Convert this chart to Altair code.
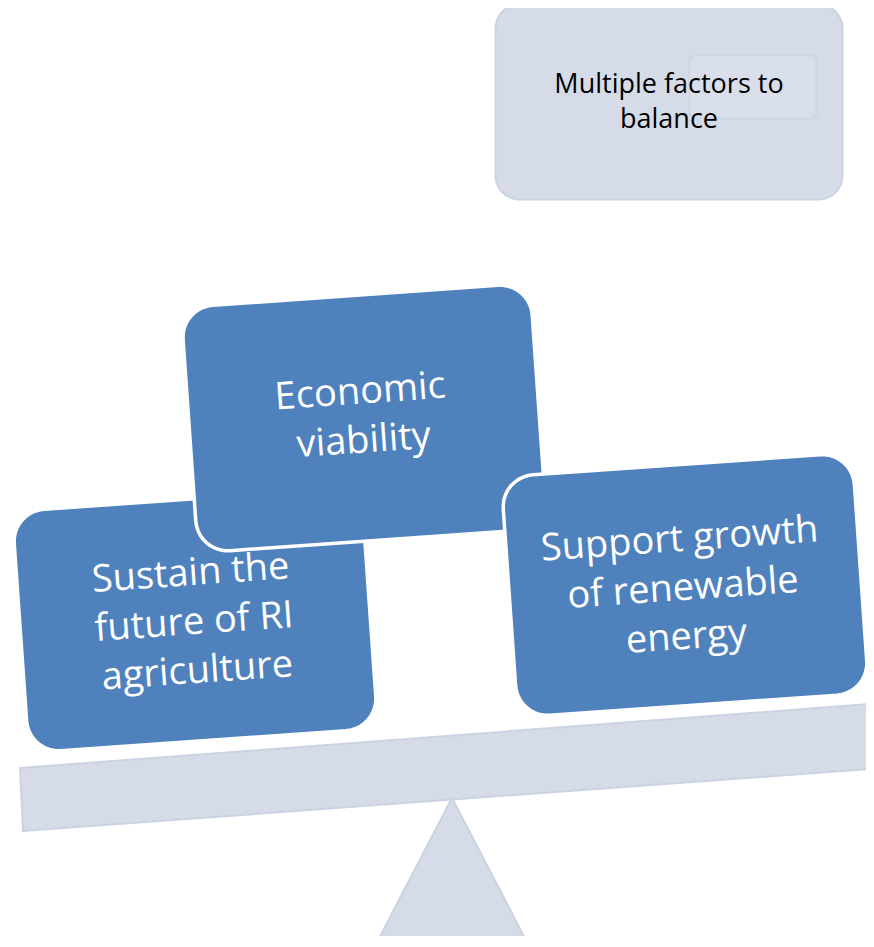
import math
import altair as alt
import pandas as pd

# ---- diagram content (pixel space of the 874x947 picture) ----
title_lines = ["Multiple factors to", "balance"]
title_box = [669, 102, 347, 195, 24]          # cx, cy, w, h, r

box_names = ["sustain", "economic", "support"]
box_lines = [["Sustain the", "future of RI", "agriculture"],
             ["Economic", "viability"],
             ["Support growth", "of renewable", "energy"]]
box_cx = [195, 364, 685]
box_cy = [620, 418, 585]
box_w = [350, 350, 352]
box_h = [242, 246, 241]
box_r = [32, 32, 32]
text_cx = [194, 362, 683]
text_cy = [623, 417, 589]
tilt = -4.0

beam_x = [20, 884, 884, 23]
beam_y = [768, 703, 768, 831]
fulcrum_x = [452, 530, 374]
fulcrum_y = [798, 948, 948]

inner_rect = [753, 87, 127, 63, 6]

BLUE = "#4F81BD"
LIGHT = "#D5DCE8"
LIGHT_EDGE = "#CBD3E3"

W, H = 858, 928
xs = alt.Scale(domain=[8, 8 + W])
ys = alt.Scale(domain=[8, 8 + H], reverse=True)


def rrect(cx, cy, w, h, r, ang, n=10):
    pts = []
    centers = [(w / 2 - r, -h / 2 + r, -90), (w / 2 - r, h / 2 - r, 0),
               (-w / 2 + r, h / 2 - r, 90), (-w / 2 + r, -h / 2 + r, 180)]
    for (ox, oy, a0) in centers:
        for k in range(n + 1):
            a = math.radians(a0 + 90 * k / n)
            pts.append((ox + r * math.cos(a), oy + r * math.sin(a)))
    t = math.radians(ang)
    out = []
    for i, (px, py) in enumerate(pts):
        out.append({"i": i,
                    "x": cx + px * math.cos(t) - py * math.sin(t),
                    "y": cy + px * math.sin(t) + py * math.cos(t)})
    return pd.DataFrame(out)


def poly(xl, yl):
    return pd.DataFrame({"i": list(range(len(xl))), "x": xl, "y": yl})


def shape(df, fill, stroke, sw, opacity=1.0):
    return alt.Chart(df).mark_line(
        fill=fill, stroke=stroke, strokeWidth=sw, interpolate="linear-closed",
        fillOpacity=opacity, clip=True
    ).encode(
        x=alt.X("x:Q", scale=xs, axis=None),
        y=alt.Y("y:Q", scale=ys, axis=None),
        order="i:Q",
    )


def label(lines, cx, cy, size, color, lh, tilt_deg=0.0):
    # Vega puts the first line at the anchor; shift so the block is centred
    d = (len(lines) - 1) * lh / 2
    t = math.radians(tilt_deg)
    ax = cx + d * math.sin(t)
    ay = cy - d * math.cos(t)
    df = pd.DataFrame({"x": [ax], "y": [ay], "t": [lines]})
    ang = (360 + tilt_deg) % 360
    return alt.Chart(df).mark_text(
        align="center", baseline="middle", fontSize=size, color=color,
        font="Open Sans", lineHeight=lh, angle=ang
    ).encode(
        x=alt.X("x:Q", scale=xs, axis=None),
        y=alt.Y("y:Q", scale=ys, axis=None),
        text="t",
    )


layers = []
tb = title_box
layers.append(shape(rrect(tb[0], tb[1], tb[2], tb[3], tb[4], 0), LIGHT, LIGHT_EDGE, 2))
ir = inner_rect
layers.append(shape(rrect(ir[0], ir[1], ir[2], ir[3], ir[4], 0), "#D9DFEA", "#CDD4E3", 2))
layers.append(label(title_lines, tb[0], tb[1], 27, "black", 35))

layers.append(shape(poly(beam_x, beam_y), LIGHT, LIGHT_EDGE, 2))
layers.append(shape(poly(fulcrum_x, fulcrum_y), LIGHT, LIGHT_EDGE, 2))

for k in range(len(box_names)):
    layers.append(shape(rrect(box_cx[k], box_cy[k], box_w[k], box_h[k], box_r[k], tilt),
                        BLUE, "white", 3.5))
    layers.append(label(box_lines[k], text_cx[k], text_cy[k], 38, "white", 49, tilt))

chart = alt.layer(*layers).properties(
    width=W, height=H, padding=0, autosize="none"
).configure_view(stroke=None)

chart.save("out.html", embed_options={"renderer": "svg", "actions": False})
